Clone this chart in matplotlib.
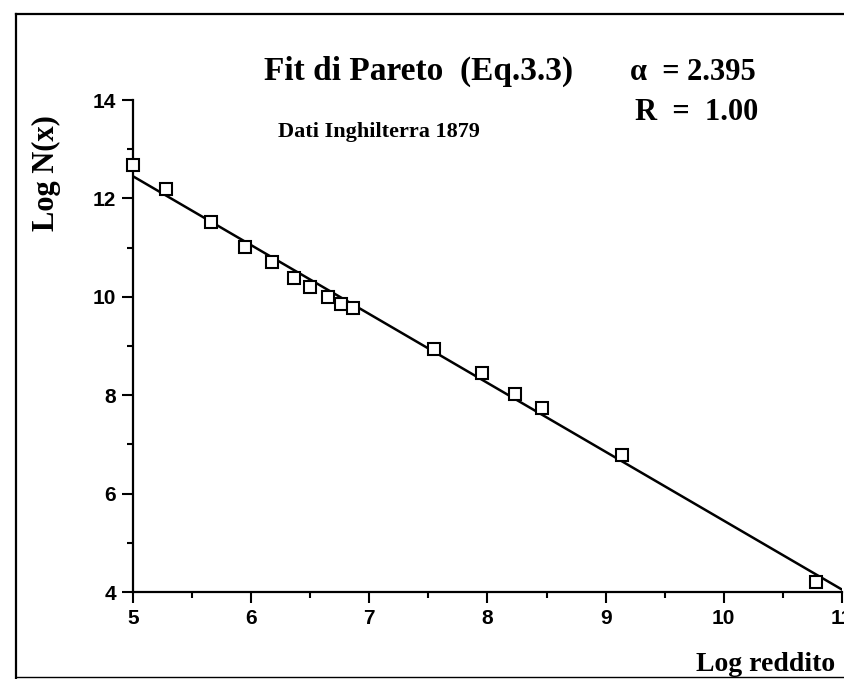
import numpy as np
import matplotlib.pyplot as plt
from matplotlib.lines import Line2D
from matplotlib.ticker import MultipleLocator

# Dati Inghilterra 1879: log reddito vs log N(x)
log_reddito = [5.00, 5.28, 5.66, 5.95, 6.18, 6.36, 6.50, 6.65, 6.76, 6.86,
               7.55, 7.95, 8.23, 8.46, 9.14, 10.78]
log_n = [12.68, 12.19, 11.52, 11.01, 10.71, 10.38, 10.20, 10.00, 9.85, 9.77,
         8.94, 8.45, 8.02, 7.74, 6.78, 4.20]

# retta di fit
fit_slope = -1.40
fit_intercept = 19.45

x_ticks = [5, 6, 7, 8, 9, 10, 11]
y_ticks = [4, 6, 8, 10, 12, 14]

font_tick = ['Liberation Sans', 'DejaVu Sans']
font_serif = ['Liberation Serif', 'DejaVu Serif']

fig = plt.figure(figsize=(8.45, 6.79), dpi=100)
ax = fig.add_axes([0.1574, 0.1281, 0.8390, 0.7246])

xx = np.array([5.0, 11.2])
ax.plot(xx, fit_intercept + fit_slope * xx, color='black', lw=1.8)
ax.plot(log_reddito, log_n, ls='none', marker='s', ms=8, mfc='white',
        mec='black', mew=1.5, clip_on=False, zorder=3)

ax.set_xlim(5, 11)
ax.set_ylim(4, 14)
ax.set_xticks(x_ticks)
ax.set_yticks(y_ticks)
ax.xaxis.set_minor_locator(MultipleLocator(0.5))
ax.yaxis.set_minor_locator(MultipleLocator(1))

for side in ['top', 'right']:
    ax.spines[side].set_visible(False)
for side in ['left', 'bottom']:
    ax.spines[side].set_linewidth(1.6)

ax.tick_params(which='major', direction='out', length=8, width=1.5, pad=4)
ax.tick_params(which='minor', direction='out', length=4, width=1.5)
for lab in ax.get_xticklabels() + ax.get_yticklabels():
    lab.set_family(font_tick)
    lab.set_fontsize(15)
    lab.set_fontweight('bold')

# titoli e annotazioni
fig.text(0.495, 0.895, 'Fit di Pareto  (Eq.3.3)', ha='center', va='center',
         family=font_serif, fontsize=24, fontweight='bold')
fig.text(0.746, 0.893, 'α  = 2.395', ha='left', va='center',
         family=font_serif, fontsize=22, fontweight='bold')
fig.text(0.751, 0.835, 'R  =  1.00', ha='left', va='center',
         family=font_serif, fontsize=22, fontweight='bold')
fig.text(0.329, 0.806, 'Dati Inghilterra 1879', ha='left', va='center',
         family=font_serif, fontsize=16, fontweight='bold')
fig.text(0.055, 0.745, 'Log N(x)', ha='center', va='center', rotation=90,
         family=font_serif, fontsize=22, fontweight='bold')
fig.text(0.988, 0.022, 'Log reddito', ha='right', va='center',
         family=font_serif, fontsize=20, fontweight='bold')

# cornice
fig.add_artist(Line2D([0.019, 0.019], [0.0, 0.980], color='black', lw=1.6))
fig.add_artist(Line2D([0.019, 1.0], [0.980, 0.980], color='black', lw=1.6))
fig.add_artist(Line2D([0.019, 1.0], [0.003, 0.003], color='black', lw=1.0))

fig.savefig('out.png', dpi=100)
